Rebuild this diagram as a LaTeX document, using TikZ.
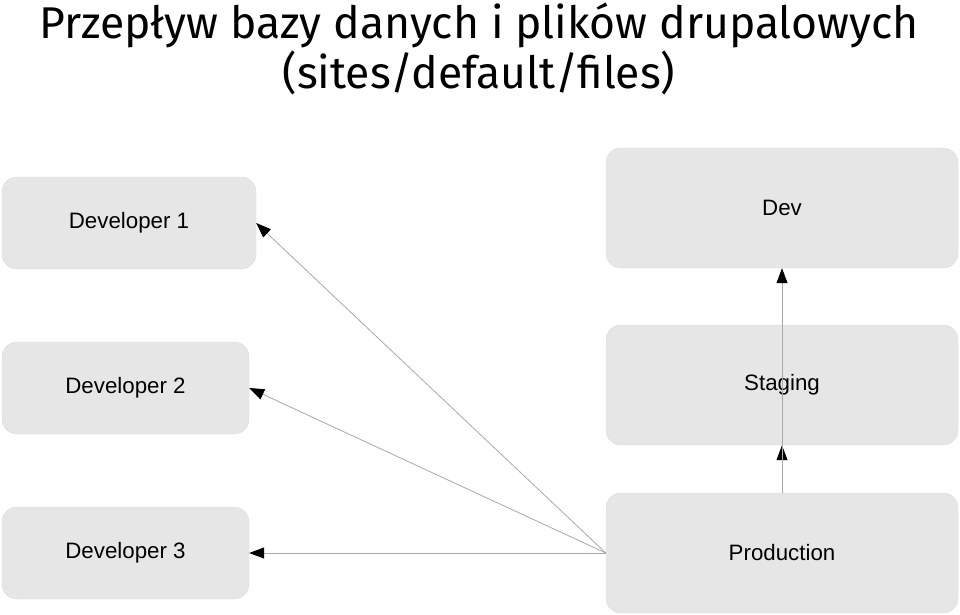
\documentclass[tikz,border=0pt]{standalone}
\usepackage{fontspec}
\setmainfont{Liberation Sans}
\newfontfamily\titlefont{Fira Sans}
\usetikzlibrary{arrows.meta, positioning}
\definecolor{kasten}{HTML}{E6E6E6}
\definecolor{rand}{HTML}{DCDCDC}
\definecolor{linia}{HTML}{A8A8A8}

\begin{document}
\begin{tikzpicture}[x=1pt, y=-1pt,
    env/.style={draw=rand, fill=kasten, rounded corners=15pt, inner sep=0pt,
                minimum width=352pt, minimum height=120pt,
                font=\fontsize{22.3}{26}\selectfont},
    devbox/.style={env, minimum width=247pt, minimum height=92pt},
    arr/.style={-{Triangle[length=15pt, width=11pt, color=black]}, linia, line width=0.8pt}
  ]
  \useasboundingbox (0,0) rectangle (960,615);

  % Titel
  \node[align=center, font=\titlefont\fontsize{44.5}{50}\selectfont] (titel) at (479,49)
    {Przepływ bazy danych i plików drupalowych\\(sites/default/files)};

  % Entwickler (links)
  \node[devbox, minimum width=254pt] (d1) at (129,223)   {Developer 1};
  \node[devbox] (d2) at (125.5,388) {Developer 2};
  \node[devbox] (d3) at (125.5,553) {Developer 3};

  % Umgebungen (rechts)
  \node[env] (dev)  at (782,208) {Dev};
  \node[env] (stag) at (782,385) {Staging};
  \node[env] (prod) at (782,553) {Production};

  % Pfeile von Production
  \foreach \d in {d1, d2, d3} {
    \draw[arr] (prod.west) -- (\d.east);
  }
  \draw[arr] (prod.north) -- (stag.south);
  \draw[arr] (prod.north) -- (dev.south);
\end{tikzpicture}
\end{document}
